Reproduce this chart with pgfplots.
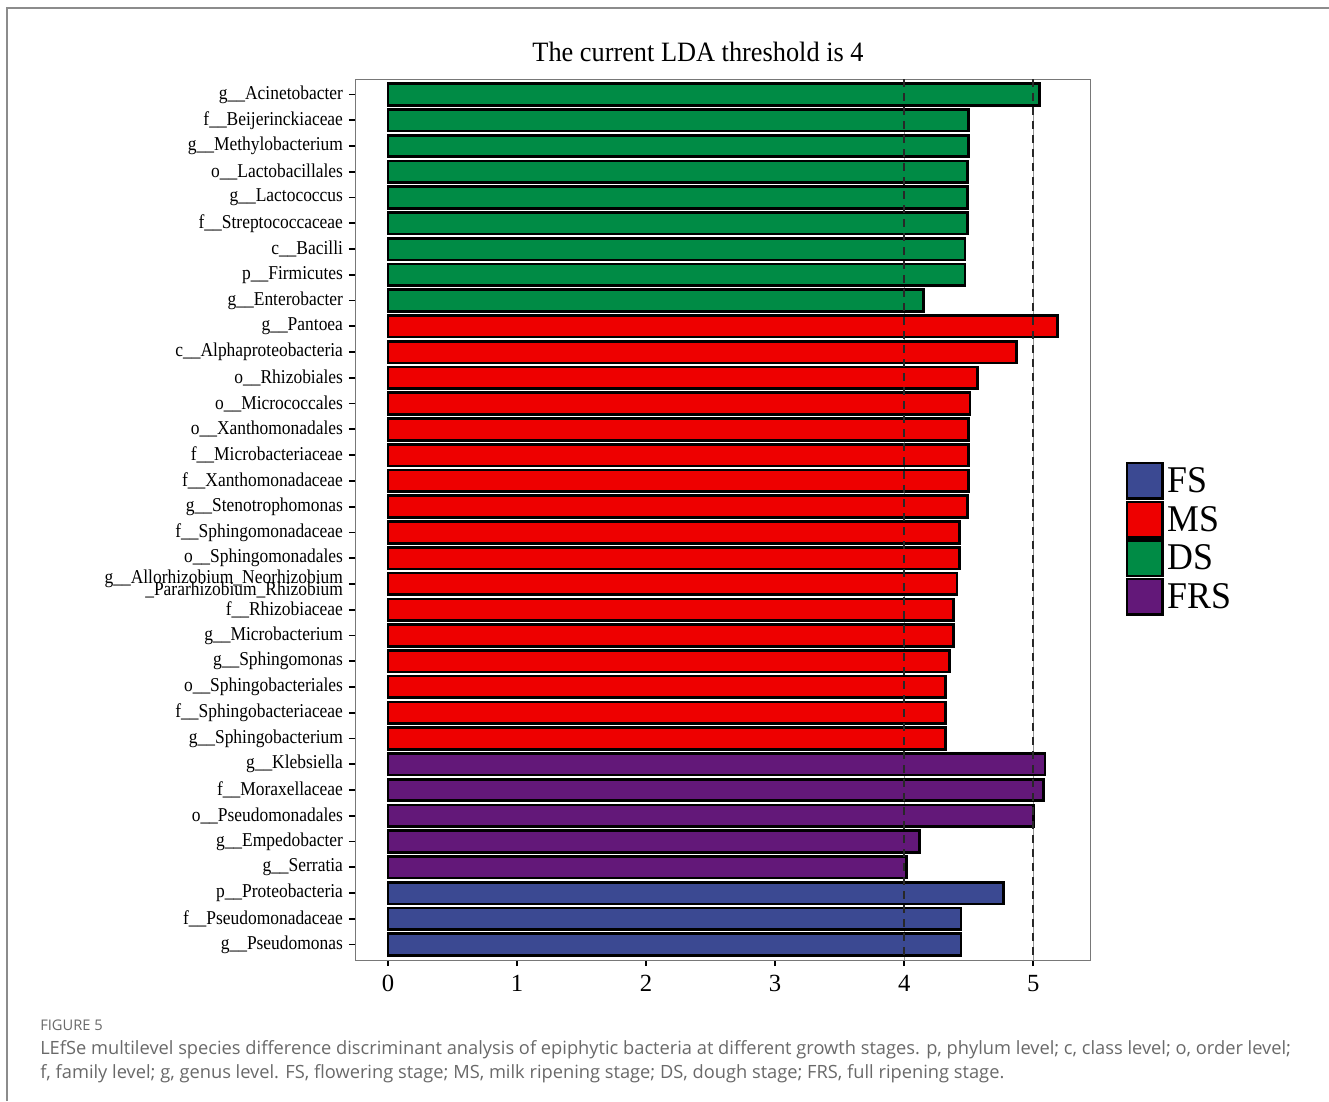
\documentclass[border=0pt]{standalone}
\usepackage{fontspec}
\usepackage{pgfplots}
\pgfplotsset{compat=1.18}
\setmainfont{Liberation Serif}
\newfontfamily\labfont[FakeStretch=0.89]{Liberation Serif}
\newfontfamily\titfont[FakeStretch=0.94]{Liberation Serif}
\newfontfamily\legfont[FakeStretch=0.95]{Liberation Serif}
\newfontfamily\capfont{Open Sans}

\definecolor{fsblue}{RGB}{59,73,146}
\definecolor{msred}{RGB}{238,0,0}
\definecolor{dsgreen}{RGB}{0,139,69}
\definecolor{frspurple}{RGB}{99,24,121}
\definecolor{framegray}{RGB}{120,120,120}
\definecolor{capgray}{RGB}{105,105,105}

\begin{document}
\begin{tikzpicture}[x=0.75pt,y=-0.75pt]
\path[use as bounding box] (0,0) rectangle (1329,1101);
% page frame
\draw[color={rgb,255:red,140;green,140;blue,140}, line width=1.4pt] (7,1101) -- (7,8) -- (1329,8);

\node[anchor=base, font=\titfont\fontsize{21}{24}\selectfont] at (698,61) {The current LDA threshold is 4};

\begin{axis}[
  at={(266.25pt,-720pt)}, anchor=south west,
  width=551.25pt, height=660.75pt, scale only axis,
  xmin=-0.256, xmax=5.44,
  ymin=-0.6, ymax=33.6, y dir=reverse,
  axis line style={framegray, line width=0.7pt},
  tick style={black, line width=1.3pt},
  major tick length=4.5pt,
  tick align=outside,
  tick pos=left,
  xtick={0,1,2,3,4,5},
  /pgf/number format/assume math mode=true,
  xticklabel style={font=\fontsize{18.5}{20}\selectfont, yshift=-3.5pt},
  ytick={0,...,33},
  yticklabels={
    g\_\_Acinetobacter, f\_\_Beijerinckiaceae, g\_\_Methylobacterium,
    o\_\_Lactobacillales, g\_\_Lactococcus, f\_\_Streptococcaceae,
    c\_\_Bacilli, p\_\_Firmicutes, g\_\_Enterobacter,
    g\_\_Pantoea, c\_\_Alphaproteobacteria, o\_\_Rhizobiales,
    o\_\_Micrococcales, o\_\_Xanthomonadales, f\_\_Microbacteriaceae,
    f\_\_Xanthomonadaceae, g\_\_Stenotrophomonas, f\_\_Sphingomonadaceae,
    o\_\_Sphingomonadales,
    {g\_\_Allorhizobium\_Neorhizobium\\[-5.5pt]\_Pararhizobium\_Rhizobium},
    f\_\_Rhizobiaceae, g\_\_Microbacterium, g\_\_Sphingomonas,
    o\_\_Sphingobacteriales, f\_\_Sphingobacteriaceae, g\_\_Sphingobacterium,
    g\_\_Klebsiella, f\_\_Moraxellaceae, o\_\_Pseudomonadales,
    g\_\_Empedobacter, g\_\_Serratia,
    p\_\_Proteobacteria, f\_\_Pseudomonadaceae, g\_\_Pseudomonas},
  yticklabel style={font=\labfont\fontsize{14.7}{10}\selectfont, align=right, xshift=-1pt},
  legend image code/.code={\draw[#1] (0pt,-13.3pt) rectangle (26.5pt,13.3pt);},
  legend style={at={(1.049,0.5653)}, anchor=north west, draw=none, fill=none,
    inner sep=0pt, outer sep=0pt, row sep=0.6pt, column sep=3pt,
    font=\legfont\fontsize{28.3}{30}\selectfont,
    cells={anchor=west}, nodes={inner sep=0pt}},
  clip=false,
]
% light guide lines under the bars
\addplot[forget plot, color={rgb,255:red,150;green,150;blue,150}, line width=0.6pt] coordinates {(4,-0.6) (4,33.6)};
\addplot[forget plot, color={rgb,255:red,150;green,150;blue,150}, line width=0.6pt] coordinates {(5,-0.6) (5,33.6)};

% DS
\addplot[forget plot, xbar, bar shift=0pt, bar width=0.84, fill=dsgreen, draw=black, line width=2pt]
  coordinates {(5.05,0) (4.50,1) (4.50,2) (4.49,3) (4.49,4) (4.49,5) (4.47,6) (4.47,7) (4.15,8)};
% MS
\addplot[forget plot, xbar, bar shift=0pt, bar width=0.84, fill=msred, draw=black, line width=2pt]
  coordinates {(5.19,9) (4.87,10) (4.57,11) (4.51,12) (4.50,13) (4.50,14) (4.50,15) (4.49,16)
               (4.43,17) (4.43,18) (4.41,19) (4.38,20) (4.38,21) (4.35,22) (4.32,23) (4.32,24) (4.32,25)};
% FRS
\addplot[forget plot, xbar, bar shift=0pt, bar width=0.84, fill=frspurple, draw=black, line width=2pt]
  coordinates {(5.09,26) (5.08,27) (5.00,28) (4.12,29) (4.02,30)};
% FS
\addplot[forget plot, xbar, bar shift=0pt, bar width=0.84, fill=fsblue, draw=black, line width=2pt]
  coordinates {(4.77,31) (4.44,32) (4.44,33)};

% LDA threshold markers
\addplot[forget plot, color={rgb,255:red,40;green,40;blue,40}, line width=1.5pt, dash pattern=on 6pt off 4.5pt] coordinates {(4,-0.6) (4,33.6)};
\addplot[forget plot, color={rgb,255:red,40;green,40;blue,40}, line width=1.5pt, dash pattern=on 6pt off 4.5pt] coordinates {(5,-0.6) (5,33.6)};

\addlegendimage{fill=fsblue, draw=black, line width=1.8pt}
\addlegendentry{FS}
\addlegendimage{fill=msred, draw=black, line width=1.8pt}
\addlegendentry{MS}
\addlegendimage{fill=dsgreen, draw=black, line width=1.8pt}
\addlegendentry{DS}
\addlegendimage{fill=frspurple, draw=black, line width=1.8pt}
\addlegendentry{FRS}
\end{axis}

% caption
\node[anchor=base west, inner sep=0pt, text=capgray, font=\capfont\fontsize{11}{13}\selectfont] at (40,1030) {FIGURE 5};
\node[anchor=base west, inner sep=0pt, text=capgray, font=\capfont\fontsize{13.7}{16}\selectfont] at (40,1054)
  {LEfSe multilevel species difference discriminant analysis of epiphytic bacteria at different growth stages. p, phylum level; c, class level; o, order level;};
\node[anchor=base west, inner sep=0pt, text=capgray, font=\capfont\fontsize{13.7}{16}\selectfont] at (40,1078)
  {f, family level; g, genus level. FS, flowering stage; MS, milk ripening stage; DS, dough stage; FRS, full ripening stage.};
\end{tikzpicture}
\end{document}
